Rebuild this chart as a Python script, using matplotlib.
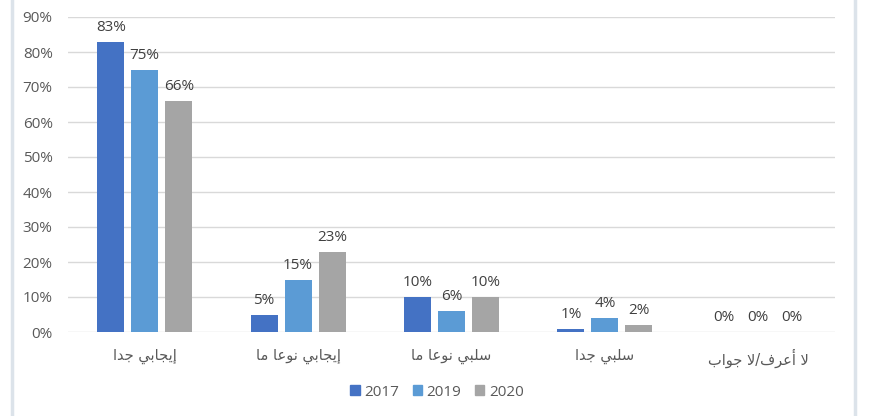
import matplotlib
matplotlib.use("Agg")
import matplotlib.pyplot as plt
from matplotlib.patches import Rectangle
from matplotlib.lines import Line2D
import numpy as np

categories = ["إيجابي جدا", "إيجابي نوعا ما", "سلبي نوعا ما", "سلبي جدا", "لا أعرف/لا جواب"]
years = ["2017", "2019", "2020"]
values_2017 = [83, 5, 10, 1, 0]
values_2019 = [75, 15, 6, 4, 0]
values_2020 = [66, 23, 10, 2, 0]
colors = ["#4472C4", "#5B9BD5", "#A5A5A5"]

# --- minimal Arabic shaping (presentation forms) ---
FORMS = {
    'ا': ('\uFE8D', '\uFE8E', None, None),
    'أ': ('\uFE83', '\uFE84', None, None),
    'إ': ('\uFE87', '\uFE88', None, None),
    'ب': ('\uFE8F', '\uFE90', '\uFE91', '\uFE92'),
    'ج': ('\uFE9D', '\uFE9E', '\uFE9F', '\uFEA0'),
    'د': ('\uFEA9', '\uFEAA', None, None),
    'ر': ('\uFEAD', '\uFEAE', None, None),
    'س': ('\uFEB1', '\uFEB2', '\uFEB3', '\uFEB4'),
    'ع': ('\uFEC9', '\uFECA', '\uFECB', '\uFECC'),
    'ف': ('\uFED1', '\uFED2', '\uFED3', '\uFED4'),
    'ل': ('\uFEDD', '\uFEDE', '\uFEDF', '\uFEE0'),
    'م': ('\uFEE1', '\uFEE2', '\uFEE3', '\uFEE4'),
    'ن': ('\uFEE5', '\uFEE6', '\uFEE7', '\uFEE8'),
    'و': ('\uFEED', '\uFEEE', None, None),
    'ي': ('\uFEF1', '\uFEF2', '\uFEF3', '\uFEF4'),
    'لا': ('\uFEFB', '\uFEFC', None, None),
    'لأ': ('\uFEF7', '\uFEF8', None, None),
    'لإ': ('\uFEF9', '\uFEFA', None, None),
}


def shape(text):
    toks = []
    i = 0
    while i < len(text):
        if text[i] == 'ل' and i + 1 < len(text) and text[i + 1] in 'اأإ':
            toks.append(text[i:i + 2])
            i += 2
        else:
            toks.append(text[i])
            i += 1
    out = []
    for k, t in enumerate(toks):
        if t not in FORMS:
            out.append(t)
            continue
        iso, fin, ini, med = FORMS[t]
        prev = toks[k - 1] if k > 0 else None
        nxt = toks[k + 1] if k + 1 < len(toks) else None
        jp = prev in FORMS and FORMS[prev][2] is not None
        jn = ini is not None and nxt in FORMS
        if jp and jn:
            out.append(med)
        elif jp:
            out.append(fin)
        elif jn:
            out.append(ini)
        else:
            out.append(iso)
    return ''.join(out)[::-1]


plt.rcParams['font.family'] = ['Open Sans', 'DejaVu Sans']
txt_color = "#595959"

fig = plt.figure(figsize=(8.72, 4.16), dpi=100)
ax = fig.add_axes([68 / 872, 1 - 332 / 416, (835 - 68) / 872, (332 - 17) / 416])

x = np.arange(len(categories))
width = 0.176
step = 0.2216
series = [values_2017, values_2019, values_2020]
for j, (vals, col, yr) in enumerate(zip(series, colors, years)):
    pos = x + (j - 1) * step
    bars = ax.bar(pos, [v / 100 for v in vals], width=width, color=col, label=yr, zorder=3)
    for b, v in zip(bars, vals):
        ax.annotate(f"{v}%", (b.get_x() + b.get_width() / 2, b.get_height()),
                    xytext=(0, 5), textcoords="offset points", ha="center", va="bottom",
                    fontsize=11, color="#404040")

ax.set_xlim(-0.5, len(categories) - 0.5)
ax.set_ylim(0, 0.9)
ax.set_yticks(np.arange(0, 0.91, 0.1))
ax.set_yticklabels([f"{int(round(t * 100))}%" for t in np.arange(0, 0.91, 0.1)], fontsize=11, color=txt_color)
ax.set_xticks(x)
ax.set_xticklabels([shape(c) for c in categories], fontsize=10.5, color=txt_color, family=['DejaVu Sans'])
ax.tick_params(axis='both', length=0)
ax.tick_params(axis='x', pad=12)
ax.tick_params(axis='y', pad=11)
ax.grid(axis='y', color="#D9D9D9", linewidth=1, zorder=0)
for s in ax.spines.values():
    s.set_visible(False)

handles = [Rectangle((0, 0), 1, 1, color=c) for c in colors]
fig.legend(handles, years, loc="center", bbox_to_anchor=(437 / 872, 1 - 392 / 416), ncol=3,
           frameon=False, fontsize=11, handlelength=0.6, handleheight=0.6, handletextpad=0.3,
           columnspacing=0.9, labelcolor=txt_color)

# side frame borders
for xb in (12 / 872, 855 / 872):
    fig.add_artist(Line2D([xb, xb], [0, 1], transform=fig.transFigure, color="#DCE3EA", linewidth=2.5))

fig.savefig("out.png", dpi=100, facecolor="white")
